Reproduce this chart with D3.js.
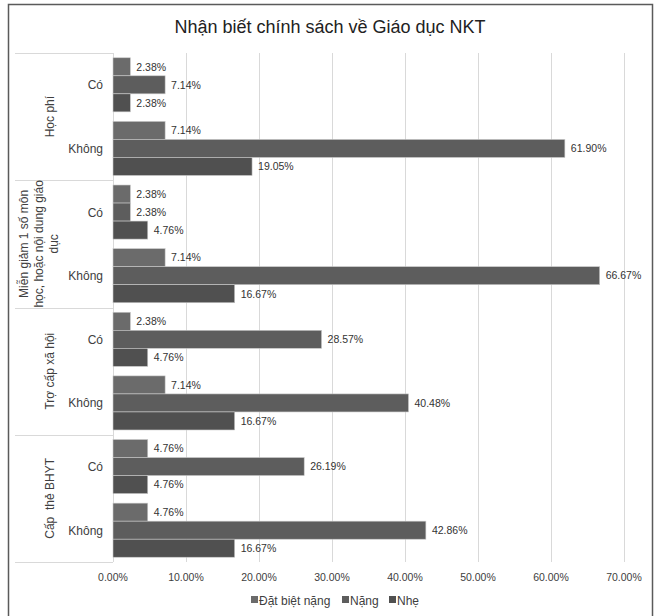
<!DOCTYPE html>
<html>
<head>
<meta charset="utf-8">
<script src="https://cdn.jsdelivr.net/npm/d3@7"></script>
<style>
  body { margin: 0; background: #fff; }
  svg { display: block; font-family: "Liberation Sans", Arial, sans-serif; }
</style>
</head>
<body>
<svg id="chart" width="656" height="616"></svg>
<script>
// Policy groups and answers
const groups = ["Học phí", "Miễn giảm 1 số môn học, hoặc nội dung giáo dục", "Trợ cấp xã hội", "Cấp thẻ BHYT"];
const groupLines = [["Học phí"], ["Miễn giảm 1 số môn", "học, hoặc nội dung giáo", "dục"], ["Trợ cấp xã hội"], ["Cấp  thẻ BHYT"]];
const answers = ["Có", "Không"];
const seriesNames = ["Đặt biệt nặng", "Nặng", "Nhẹ"];

// Percentages per series, in order: group × answer
const datDietNang = [2.38, 7.14, 2.38, 7.14, 2.38, 7.14, 4.76, 4.76];
const nang        = [7.14, 61.90, 2.38, 66.67, 28.57, 40.48, 26.19, 42.86];
const nhe         = [2.38, 19.05, 4.76, 16.67, 4.76, 16.67, 4.76, 16.67];
const seriesValues = [datDietNang, nang, nhe];

const xTicks = [0, 10, 20, 30, 40, 50, 60, 70];
const colors = ["#6b6b6b", "#5d5d5d", "#505050"];

const svg = d3.select("#chart");

// outer frame
svg.append("rect").attr("x", 8.5).attr("y", 4.5).attr("width", 644).attr("height", 640)
  .attr("fill", "none").attr("stroke", "#5a5a5a").attr("stroke-width", 1.5);

svg.append("text").attr("x", 330).attr("y", 33).attr("text-anchor", "middle")
  .attr("font-size", 18).attr("fill", "#222").text("Nhận biết chính sách về Giáo dục NKT");

const plot = { left: 113, right: 624, top: 53, bottom: 562 };
const x = d3.scaleLinear().domain([0, 70]).range([plot.left, plot.right]);

const rows = [];
groups.forEach((g, gi) => answers.forEach((a, ai) => rows.push({ key: gi + "|" + ai, g: gi, a })));
const y = d3.scaleBand().domain(rows.map(r => r.key)).range([plot.top, plot.bottom])
  .paddingInner(0.15).paddingOuter(0.075);
const ys = d3.scaleBand().domain(seriesNames).range([0, y.bandwidth()]).padding(0);
const yg = d3.scaleBand().domain(groups).range([plot.top, plot.bottom]);

// vertical gridlines
svg.append("g").selectAll("line").data(xTicks.slice(1)).join("line")
  .attr("x1", d => x(d) + 0.5).attr("x2", d => x(d) + 0.5)
  .attr("y1", plot.top).attr("y2", plot.bottom)
  .attr("stroke", "#d9d9d9").attr("stroke-width", 1);

// x tick labels
svg.append("g").selectAll("text").data(xTicks).join("text")
  .attr("x", d => x(d)).attr("y", 581).attr("text-anchor", "middle")
  .attr("font-size", 10.5).attr("fill", "#404040")
  .text(d => d3.format(".2f")(d) + "%");

// category axis: group separators and axis line
const catLeft = 15;
svg.append("g").selectAll("line").data(groups.concat(["end"])).join("line")
  .attr("x1", catLeft).attr("x2", plot.left)
  .attr("y1", (d, i) => Math.round(plot.top + i * yg.step()) + 0.5)
  .attr("y2", (d, i) => Math.round(plot.top + i * yg.step()) + 0.5)
  .attr("stroke", "#d9d9d9");
svg.append("line").attr("x1", plot.left + 0.5).attr("x2", plot.left + 0.5)
  .attr("y1", plot.top).attr("y2", plot.bottom).attr("stroke", "#d9d9d9");

// answer labels
svg.append("g").selectAll("text").data(rows).join("text")
  .attr("x", 103).attr("y", d => y(d.key) + y.bandwidth() / 2 + 4.5)
  .attr("text-anchor", "end").attr("font-size", 12).attr("fill", "#404040")
  .text(d => d.a);

// group labels (rotated, multi-line where wrapped)
groups.forEach((g, gi) => {
  const lines = groupLines[gi];
  const cy = yg(g) + yg.bandwidth() / 2;
  const lh = 15;
  const bx = lines.length > 1 ? 27.5 : 53.5;
  const t = svg.append("text")
    .attr("transform", `translate(${bx},${cy}) rotate(-90)`)
    .attr("text-anchor", "middle").attr("font-size", 12).attr("fill", "#404040")
    .style("white-space", "pre");
  lines.forEach((ln, li) => {
    t.append("tspan").attr("x", 0).attr("dy", li === 0 ? 0 : lh).text(ln);
  });
});

// bars and value labels
const barData = [];
seriesValues.forEach((vals, si) => vals.forEach((v, ri) => barData.push({ s: seriesNames[si], si, row: rows[ri].key, v })));

svg.append("g").selectAll("rect").data(barData).join("rect")
  .attr("x", x(0)).attr("y", d => y(d.row) + ys(d.s))
  .attr("width", d => x(d.v) - x(0)).attr("height", ys.bandwidth())
  .attr("fill", d => colors[d.si]).attr("stroke", "#c8c8c8").attr("stroke-width", 0.6);

svg.append("g").selectAll("text").data(barData).join("text")
  .attr("x", d => x(d.v) + 6).attr("y", d => y(d.row) + ys(d.s) + ys.bandwidth() / 2 + 3.8)
  .attr("font-size", 10.5).attr("fill", "#333")
  .text(d => d3.format(".2f")(d.v) + "%");

// legend
const lg = svg.append("g").attr("font-size", 12).attr("fill", "#404040");
const legendX = [251, 342, 389];
seriesNames.forEach((n, i) => {
  lg.append("rect").attr("x", legendX[i]).attr("y", 596).attr("width", 7).attr("height", 7).attr("fill", colors[i]);
  lg.append("text").attr("x", legendX[i] + 8).attr("y", 604.5).text(n);
});
</script>
</body>
</html>
